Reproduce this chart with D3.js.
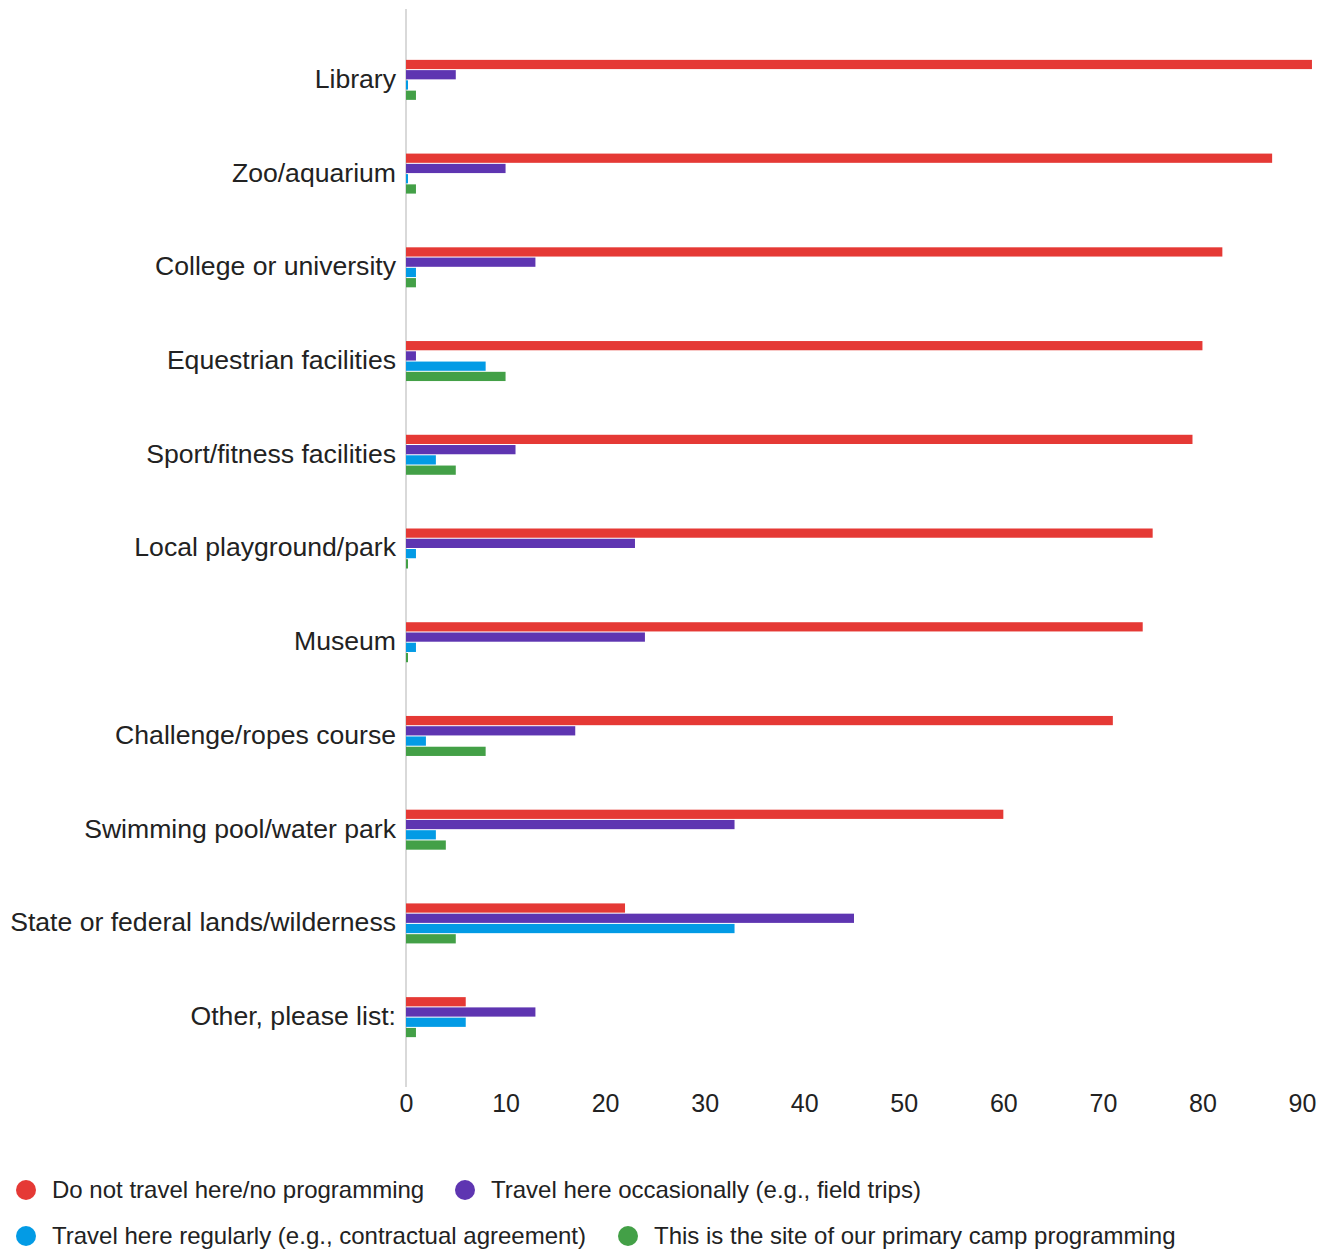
<!DOCTYPE html>
<html>
<head>
<meta charset="utf-8">
<script src="https://cdn.jsdelivr.net/npm/d3@7"></script>
<style>
  body { margin: 0; background: #fff; }
  text { font-family: "Liberation Sans", Arial, sans-serif; fill: #222; }
</style>
</head>
<body>
<div id="chart"></div>
<script>
// categories, top to bottom
var categories = [
  'Library', 'Zoo/aquarium', 'College or university', 'Equestrian facilities',
  'Sport/fitness facilities', 'Local playground/park', 'Museum',
  'Challenge/ropes course', 'Swimming pool/water park',
  'State or federal lands/wilderness', 'Other, please list:'
]
var seriesNames = [
  'Do not travel here/no programming',
  'Travel here occasionally (e.g., field trips)',
  'Travel here regularly (e.g., contractual agreement)',
  'This is the site of our primary camp programming'
]
var seriesColors = ['#e53935', '#5e35b1', '#039be5', '#43a047']
// values per series, same order as categories
var notTravel = [91, 87, 82, 80, 79, 75, 74, 71, 60, 22, 6]
var occasionally = [5, 10, 13, 1, 11, 23, 24, 17, 33, 45, 13]
var regularly = [0.2, 0.2, 1, 8, 3, 1, 1, 2, 3, 33, 6]
var primarySite = [1, 1, 1, 10, 5, 0.2, 0.2, 8, 4, 5, 1]
var xTicks = [0, 10, 20, 30, 40, 50, 60, 70, 80, 90]

var series = [notTravel, occasionally, regularly, primarySite]

// layout settings
var chart = {}
chart.width = 1332
chart.height = 1251
chart.left = 406
chart.right = 1302
chart.top = 33
chart.bottom = 1064

var svg = d3.select('#chart')
  .append('svg')
  .attr('width', chart.width)
  .attr('height', chart.height)

var xScale = d3.scaleLinear().domain([0, 90]).range([chart.left, chart.right])
var yScale = d3.scaleBand().domain(categories).range([chart.top, chart.bottom])
var yInner = d3.scaleBand().domain(d3.range(series.length)).range([0, 40]).paddingInner(0.1)

// baseline
svg.append('line')
  .attr('x1', xScale(0)).attr('x2', xScale(0))
  .attr('y1', 9).attr('y2', 1087)
  .attr('stroke', '#d9d9d9')
  .attr('stroke-width', 2)

// bars
var groups = svg.selectAll('.catGroup')
  .data(categories)
  .enter()
  .append('g')
  .attr('class', 'catGroup')
  .attr('transform', function (d) {
    return 'translate(0,' + (yScale(d) + yScale.bandwidth() / 2 - 20) + ')'
  })

groups.selectAll('rect')
  .data(function (d, i) {
    return series.map(function (s, k) { return { k: k, v: s[i] } })
  })
  .enter()
  .append('rect')
  .attr('x', xScale(0))
  .attr('y', function (d) { return yInner(d.k) })
  .attr('height', yInner.bandwidth())
  .attr('width', function (d) { return xScale(d.v) - xScale(0) })
  .attr('fill', function (d) { return seriesColors[d.k] })

// category labels
svg.selectAll('.catLabel')
  .data(categories)
  .enter()
  .append('text')
  .attr('class', 'catLabel')
  .attr('x', chart.left - 10)
  .attr('y', function (d) { return yScale(d) + yScale.bandwidth() / 2 })
  .attr('dy', '0.3em')
  .attr('text-anchor', 'end')
  .attr('font-size', 26.6)
  .text(function (d) { return d })

// x axis labels
var xAxis = d3.axisBottom(xScale).tickValues(xTicks).tickSize(0).tickPadding(0)
var gx = svg.append('g')
  .attr('transform', 'translate(0,1094)')
  .call(xAxis)
gx.select('.domain').remove()
gx.selectAll('text')
  .attr('font-size', 25)
  .attr('dy', '0.71em')
  .style('font-family', '"Liberation Sans", Arial, sans-serif')
  .attr('fill', '#222')

// legend
var legendPos = [
  { x: 26, y: 1190 }, { x: 465, y: 1190 },
  { x: 26, y: 1236 }, { x: 628, y: 1236 }
]
var legend = svg.selectAll('.legendItem')
  .data(seriesNames)
  .enter()
  .append('g')
  .attr('class', 'legendItem')
  .attr('transform', function (d, i) {
    return 'translate(' + legendPos[i].x + ',' + legendPos[i].y + ')'
  })
legend.append('circle')
  .attr('r', 10)
  .attr('fill', function (d, i) { return seriesColors[i] })
legend.append('text')
  .attr('x', 26)
  .attr('dy', '0.35em')
  .attr('font-size', 24)
  .text(function (d) { return d })
</script>
</body>
</html>
